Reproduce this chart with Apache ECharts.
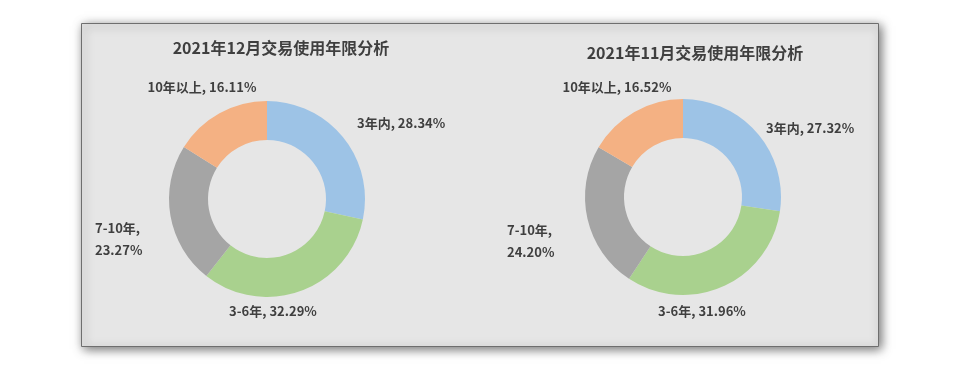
<!DOCTYPE html>
<html>
<head>
<meta charset="utf-8">
<style>
html,body{margin:0;padding:0;background:#fff;}
#c{width:960px;height:367px;}
</style>
<script src="https://cdn.jsdelivr.net/npm/echarts@6/dist/echarts.min.js"></script>
</head>
<body>
<div id="c"></div>
<script>
const categories = ['3年内', '3-6年', '7-10年', '10年以上'];
const titleDec = '2021年12月交易使用年限分析';
const titleNov = '2021年11月交易使用年限分析';
const valuesDec = [28.34, 32.29, 23.27, 16.11];
const valuesNov = [27.32, 31.96, 24.20, 16.52];

const colors = ['#9DC3E6', '#A9D18E', '#A5A5A5', '#F4B183'];
const FONT = '"Noto Sans CJK SC", "Noto Sans", sans-serif';

// label offsets relative to each pie's centre (style, not data)
const labelOffDec = [
  {dx: 90, dy: -76, align: 'left'},
  {dx: 6, dy: 112, align: 'center'},
  {dx: -172, dy: 40, align: 'left'},
  {dx: -65, dy: -112, align: 'center'}
];
const labelOffNov = [
  {dx: 83, dy: -69, align: 'left'},
  {dx: 19, dy: 114, align: 'center'},
  {dx: -176, dy: 44, align: 'left'},
  {dx: -66, dy: -110, align: 'center'}
];

function makeData(vals) {
  return categories.map((n, i) => ({ name: n, value: vals[i] }));
}

function makeSeries(vals, center, offs) {
  return {
    type: 'pie',
    center: center,
    radius: [59, 98],
    startAngle: 90,
    clockwise: true,
    avoidLabelOverlap: false,
    silent: true,
    itemStyle: { borderWidth: 0 },
    label: {
      show: true,
      position: 'outside',
      color: '#3F3F3F',
      fontFamily: FONT,
      fontWeight: 'bold',
      fontSize: 13,
      lineHeight: 22,
      formatter: p => p.name === '7-10年' ? p.name + ',\n' + p.value.toFixed(2) + '%' : p.name + ', ' + p.value.toFixed(2) + '%'
    },
    labelLine: { show: false },
    labelLayout: p => {
      const o = offs[p.dataIndex];
      return { x: center[0] + o.dx, y: center[1] + o.dy, align: o.align, verticalAlign: 'middle' };
    },
    data: makeData(vals)
  };
}

const chart = echarts.init(document.getElementById('c'));
chart.setOption({
  backgroundColor: '#ffffff',
  animation: false,
  color: colors,
  graphic: [{
    type: 'rect',
    z: -10,
    shape: { x: 81.5, y: 23.5, width: 797, height: 323 },
    style: {
      fill: '#E6E6E6',
      stroke: '#6E6E6E',
      lineWidth: 1,
      shadowBlur: 10,
      shadowColor: 'rgba(0,0,0,0.55)',
      shadowOffsetX: 2,
      shadowOffsetY: 2
    }
  }],
  title: [
    { text: titleDec, left: 276, top: 43, textAlign: 'center', textVerticalAlign: 'middle',
      textStyle: { fontFamily: FONT, fontSize: 16, fontWeight: 'bold', color: '#3F3F3F' } },
    { text: titleNov, left: 690, top: 48, textAlign: 'center', textVerticalAlign: 'middle',
      textStyle: { fontFamily: FONT, fontSize: 16, fontWeight: 'bold', color: '#3F3F3F' } }
  ],
  series: [
    makeSeries(valuesDec, [267, 199], labelOffDec),
    makeSeries(valuesNov, [683, 197], labelOffNov)
  ]
});
</script>
</body>
</html>
